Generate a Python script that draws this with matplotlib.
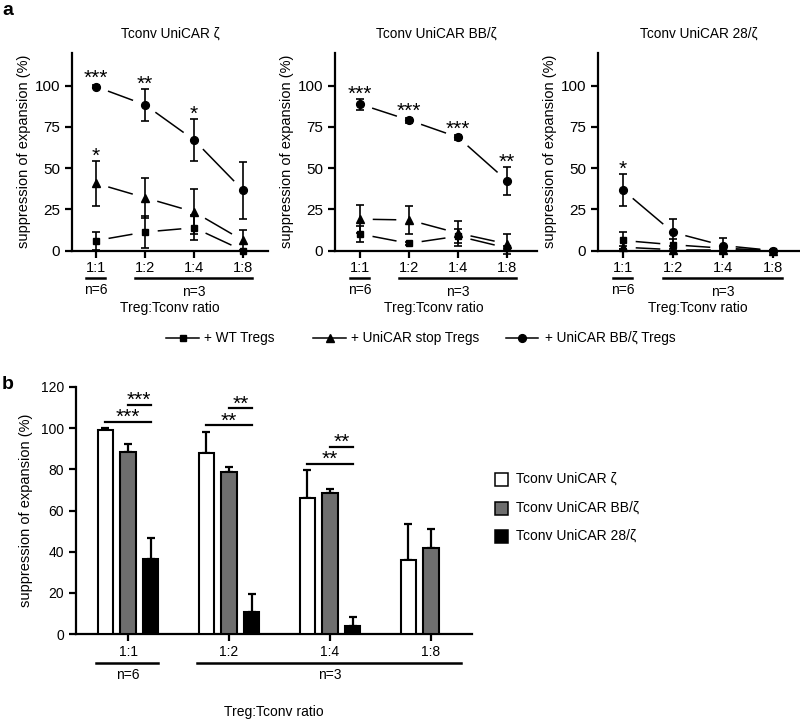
import numpy as np
import matplotlib
matplotlib.use('Agg')
import matplotlib.pyplot as plt
from matplotlib.patches import Rectangle
from matplotlib.lines import Line2D

plt.rcParams['font.family'] = ['Liberation Sans', 'DejaVu Sans']

# ---------------- data ----------------
ratios = ['1:1', '1:2', '1:4', '1:8']
panel_titles = ['Tconv UniCAR ζ', 'Tconv UniCAR BB/ζ', 'Tconv UniCAR 28/ζ']
series_names = ['+ WT Tregs', '+ UniCAR stop Tregs', '+ UniCAR BB/ζ Tregs']

# panel a, Tconv UniCAR zeta
wt_zeta = [6.0, 11.2, 13.8, 0.0]
wt_zeta_err = [5.5, 9.8, 7.7, 0.5]
stop_zeta = [40.7, 32.0, 23.4, 6.1]
stop_zeta_err = [13.5, 12.0, 13.6, 6.1]
bbz_zeta = [99.3, 88.3, 67.0, 36.5]
bbz_zeta_err = [0.8, 9.8, 12.8, 17.3]
sig_zeta_circle = ['***', '**', '*', '']
sig_zeta_triangle = ['*', '', '', '']

# panel a, Tconv UniCAR BB/zeta
wt_bb = [10.0, 4.3, 8.7, 1.5]
wt_bb_err = [5.0, 0.8, 4.4, 1.0]
stop_bb = [19.0, 18.5, 10.5, 4.0]
stop_bb_err = [8.6, 8.5, 7.5, 6.0]
bbz_bb = [88.7, 79.0, 68.6, 42.2]
bbz_bb_err = [3.3, 1.5, 1.5, 8.6]
sig_bb_circle = ['***', '***', '***', '**']

# panel a, Tconv UniCAR 28/zeta
wt_28 = [6.1, 3.5, 1.4, 0.0]
wt_28_err = [4.9, 3.6, 1.5, 0.5]
stop_28 = [2.0, 0.5, 0.5, 0.0]
stop_28_err = [1.0, 0.5, 0.5, 0.0]
bbz_28 = [36.6, 11.0, 3.0, 0.0]
bbz_28_err = [9.7, 8.3, 4.8, 0.5]
sig_28_circle = ['*', '', '', '']

# panel b
b_series = ['Tconv UniCAR ζ', 'Tconv UniCAR BB/ζ', 'Tconv UniCAR 28/ζ']
b_zeta = [98.9, 88.1, 66.3, 35.9]
b_zeta_sem = [1.0, 10.2, 13.3, 17.5]
b_bb = [88.6, 78.6, 68.4, 41.9]
b_bb_sem = [3.5, 2.3, 2.0, 9.3]
b_28 = [36.6, 10.8, 3.9, np.nan]
b_28_sem = [10.0, 8.6, 4.4, np.nan]
b_colors = ['white', '#6e6e6e', 'black']
# (group, from series, to series, label)
b_brackets = [(0, 0, 2, '***'), (0, 1, 2, '***'),
              (1, 0, 2, '**'), (1, 1, 2, '**'),
              (2, 0, 2, '**'), (2, 1, 2, '**')]

n_groups = [('n=6', 0, 0), ('n=3', 1, 3)]

# ---------------- figure ----------------
W, H = 800, 721
fig = plt.figure(figsize=(W / 100, H / 100), dpi=100)


def add_ax(l, t, r, b):
    return fig.add_axes([l / W, 1 - b / H, (r - l) / W, (b - t) / H])


def style(ax):
    for s in ['top', 'right']:
        ax.spines[s].set_visible(False)
    for s in ['left', 'bottom']:
        ax.spines[s].set_linewidth(1.6)
    ax.tick_params(direction='out', length=5, width=1.6, color='black')


def below(ax, px):
    return -px / ax.bbox.height


def gapped_line(ax, xs, ys, gap=13.5):
    pts = ax.transData.transform(np.column_stack([xs, ys]))
    inv = ax.transData.inverted()
    for p0, p1 in zip(pts[:-1], pts[1:]):
        d = p1 - p0
        L = np.hypot(*d)
        if L <= 2 * gap + 2:
            continue
        u = d / L
        seg = inv.transform(np.vstack([p0 + u * gap, p1 - u * gap]))
        ax.plot(seg[:, 0], seg[:, 1], color='black', lw=1.1, clip_on=False,
                zorder=2)


def star(ax, x, top_data, label, base_px, fs=15, extra=7.5):
    # place asterisks so their visual centre sits `extra` px above top
    fs_px = fs * 100 / 72
    off = base_px + extra - 0.40 * fs_px
    ax.annotate(label, xy=(x, top_data), xytext=(0, off),
                textcoords='offset pixels', ha='center', va='baseline',
                fontsize=fs, annotation_clip=False)


panels_a = [
    dict(box=(72, 52.5, 268, 250.5), xlim=(-0.49, 3.51),
         data=[(wt_zeta, wt_zeta_err), (stop_zeta, stop_zeta_err),
               (bbz_zeta, bbz_zeta_err)],
         sig=[None, sig_zeta_triangle, sig_zeta_circle]),
    dict(box=(335, 52.5, 537, 250.5), xlim=(-0.51, 3.61),
         data=[(wt_bb, wt_bb_err), (stop_bb, stop_bb_err),
               (bbz_bb, bbz_bb_err)],
         sig=[None, None, sig_bb_circle]),
    dict(box=(598, 52.5, 800, 250.5), xlim=(-0.5, 3.54),
         data=[(wt_28, wt_28_err), (stop_28, stop_28_err),
               (bbz_28, bbz_28_err)],
         sig=[None, None, sig_28_circle]),
]
markers = [('s', 5.0), ('^', 6.3), ('o', 5.6)]

x = np.arange(len(ratios))
for i, p in enumerate(panels_a):
    ax = add_ax(*p['box'])
    style(ax)
    for (vals, errs), (m, ms) in zip(p['data'], markers):
        ax.errorbar(x, vals, yerr=errs, fmt=m, ms=ms, color='black',
                    ecolor='black', elinewidth=1.2, capsize=3.2,
                    capthick=1.2, clip_on=False, zorder=3)
    ax.set_xlim(*p['xlim'])
    ax.set_ylim(0, 120)
    ax.set_yticks([0, 25, 50, 75, 100])
    ax.set_xticks(x, ratios)
    ax.tick_params(axis='y', labelsize=11)
    ax.tick_params(axis='x', labelsize=10.5, pad=2.5)
    ax.set_ylabel('suppression of expansion (%)', fontsize=10.5, labelpad=3)
    ax.set_title(panel_titles[i], fontsize=9.8, pad=11)
    px_per_unit = ax.bbox.height / 120
    for (vals, errs), sig in zip(p['data'], p['sig']):
        gapped_line(ax, x, vals)
        if sig is None:
            continue
        for xi, v, e, s in zip(x, vals, errs, sig):
            if s:
                base = max(e * px_per_unit, 3.8)
                star(ax, xi, v, s, base)
    tr = ax.get_xaxis_transform()
    for lab, g0, g1 in n_groups:
        ax.plot([g0 - 0.21, g1 + 0.18], [below(ax, 27)] * 2, color='black',
                lw=1.8, transform=tr, clip_on=False)
        ax.text((g0 + g1) / 2, below(ax, 39 if g0 == g1 else 41), lab,
                transform=tr, ha='center', va='center', fontsize=10)
    ax.text(1.5, below(ax, 57), 'Treg:Tconv ratio', transform=tr,
            ha='center', va='center', fontsize=10)

# legend for panel a
leg_items = [(166, 199, 204), (313, 346, 351), (506, 538, 545)]
for (x0, x1, tx), name, (m, ms) in zip(leg_items, series_names, markers):
    yy = 1 - 338 / H
    fig.add_artist(Line2D([x0 / W, x1 / W], [yy, yy], color='black', lw=1.1,
                          transform=fig.transFigure))
    fig.add_artist(Line2D([(x0 + x1) / 2 / W], [yy], marker=m, ms=ms,
                          color='black', transform=fig.transFigure))
    fig.text(tx / W, yy, name, ha='left', va='center', fontsize=9.8)

fig.text(2 / W, 1 - 2 / H, 'a', ha='left', va='top', fontsize=14,
         fontweight='bold')
fig.text(2 / W, 1 - 376 / H, 'b', ha='left', va='top', fontsize=14,
         fontweight='bold')

# ---------------- panel b ----------------
axb = add_ax(76, 387, 472, 634)
style(axb)
offsets = [-0.223, 0.0, 0.223]
bw = 0.155
b_means = [b_zeta, b_bb, b_28]
b_sems = [b_zeta_sem, b_bb_sem, b_28_sem]
for k, (m, s, c) in enumerate(zip(b_means, b_sems, b_colors)):
    m = np.array(m, float)
    s = np.array(s, float)
    axb.bar(x + offsets[k], m, width=bw, color=c, edgecolor='black',
            linewidth=1.5, zorder=3, label=b_series[k])
    axb.errorbar(x + offsets[k], m, yerr=[np.zeros_like(s), s], fmt='none',
                 ecolor='black', elinewidth=1.6, capsize=3.0, capthick=1.6,
                 zorder=2)
axb.set_xlim(-0.515, 3.406)
axb.set_ylim(0, 120)
axb.set_yticks(np.arange(0, 121, 20))
axb.set_xticks(x, ratios)
axb.tick_params(axis='both', labelsize=10)
axb.tick_params(axis='x', pad=3)
axb.set_ylabel('suppression of expansion (%)', fontsize=10.5, labelpad=6)

# brackets
tops = [np.nanmax([b_means[k][g] + b_sems[k][g] for k in range(3)])
        for g in range(len(ratios))]
for g, s0, s1, lab in b_brackets:
    lvl = 3.2 if s0 == 0 else 11.4
    yb = tops[g] + lvl
    xa, xb_ = g + offsets[s0], g + offsets[s1]
    axb.plot([xa, xb_], [yb, yb], color='black', lw=1.6, clip_on=False)
    star(axb, (xa + xb_) / 2, yb, lab, 0, fs=15, extra=7.0)

trb = axb.get_xaxis_transform()
for lab, g0, g1 in n_groups:
    axb.plot([g0 - 0.317, g1 + 0.297], [below(axb, 29)] * 2, color='black',
             lw=1.8, transform=trb, clip_on=False)
    axb.text((g0 + g1) / 2, below(axb, 41), lab, transform=trb,
             ha='center', va='center', fontsize=10)
axb.text(1.445, below(axb, 78), 'Treg:Tconv ratio', transform=trb,
         ha='center', va='center', fontsize=10)

# legend for panel b
for k, (name, c) in enumerate(zip(b_series, b_colors)):
    yc = [479, 508, 536][k]
    fig.add_artist(Rectangle((495 / W, 1 - (yc + 6.5) / H), 13 / W, 13 / H,
                             facecolor=c, edgecolor='black', lw=1.1,
                             transform=fig.transFigure))
    fig.text(516 / W, 1 - yc / H, name, ha='left', va='center', fontsize=10)

fig.savefig('out.png', dpi=100)
